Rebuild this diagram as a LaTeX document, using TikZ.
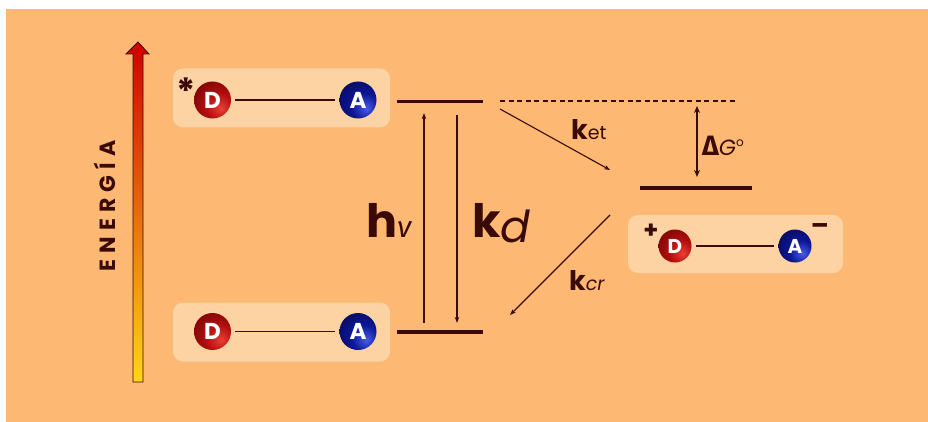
\documentclass[tikz,border=0pt]{standalone}
\usepackage{fontspec}
\setmainfont{Poppins}
\newfontfamily\grk{Fira Sans}
\usetikzlibrary{arrows.meta}

\definecolor{bg}{RGB}{253,184,116}
\definecolor{panel}{RGB}{253,211,164}
\definecolor{ink}{RGB}{58,10,6}
\definecolor{dhi}{RGB}{236,62,52}
\definecolor{dmid}{RGB}{180,14,14}
\definecolor{ddk}{RGB}{96,0,0}
\definecolor{ahi}{RGB}{72,92,232}
\definecolor{amid}{RGB}{12,22,150}
\definecolor{adk}{RGB}{6,6,66}

% spheres lit from the lower right
\pgfdeclareradialshading{donorball}{\pgfpoint{12bp}{-12bp}}{color(0bp)=(dhi); color(18bp)=(dmid); color(46bp)=(ddk); color(70bp)=(ddk)}
\pgfdeclareradialshading{acceptorball}{\pgfpoint{12bp}{-12bp}}{color(0bp)=(ahi); color(18bp)=(amid); color(46bp)=(adk); color(70bp)=(adk)}

\newcommand{\fs}[1]{\fontsize{#1}{#1}\selectfont}

\tikzset{
  panel/.style={fill=panel, rounded corners=10pt, minimum width=217pt, minimum height=59pt, inner sep=0pt},
  ball/.style={circle, inner sep=0pt, minimum size=37pt, text=white, font=\bfseries\fs{23}},
  donor/.style={ball, shade, shading=donorball},
  acceptor/.style={ball, shade, shading=acceptorball},
  bond/.style={draw=ink, line width=1.8pt, shorten <=4pt, shorten >=4pt},
  level/.style={fill=ink, minimum height=3.2pt, inner sep=0pt, outer sep=0pt},
  rate/.style={draw=ink, line width=1.1pt, -{Stealth[length=6pt,width=4.5pt]}},
  label/.style={text=ink, anchor=base west, inner sep=0pt},
}

\begin{document}
\begin{tikzpicture}[x=1pt, y=-1pt]
  \useasboundingbox (0,0) rectangle (928,422);
  \fill[bg] (6,9) rectangle (928,422);

  % energy axis
  \shade[top color={rgb,255:red,208;green,0;blue,0}, middle color={rgb,255:red,250;green,118;blue,12},
         bottom color={rgb,255:red,255;green,214;blue,22}, draw=ink, line width=0.8pt]
    (133,382) -- (133,54) -- (126,54) -- (138,42) -- (149,54) -- (143,54) -- (143,382) -- cycle;
  \node[rotate=90, text=ink, font=\bfseries\fs{22}\addfontfeature{LetterSpace=28}] (energy) at (105,206) {ENERGÍA};

  % excited state *D--A
  \node[panel] (boxT) at (281.5,98) {};
  \node[donor] (DT) at (212.5,100) {D};
  \node[acceptor] (AT) at (358,100) {A};
  \draw[bond] (DT) -- (AT);
  \node[text=ink, font=\bfseries\fs{36}] (star) at (186,91) {*};

  % ground state D--A
  \node[panel] (boxB) at (281.5,332) {};
  \node[donor] (DB) at (212.5,331.5) {D};
  \node[acceptor] (AB) at (358,331.5) {A};
  \draw[bond] (DB) -- (AB);

  % charge separated state D+--A-
  \node[panel, minimum width=215pt, minimum height=58pt] (boxR) at (735.5,244) {};
  \node[donor, minimum size=33pt, font=\bfseries\fs{20}] (DR) at (675,246) {D};
  \node[acceptor, minimum size=33pt, font=\bfseries\fs{20}] (AR) at (795,246) {A};
  \draw[bond] (DR) -- (AR);
  \node[text=ink, font=\bfseries\fs{24}] (plus) at (651,231) {+};
  \node[text=ink, font=\bfseries\fs{26}] (minus) at (820,229) {–};

  % levels
  \node[level, minimum width=86pt] (S1) at (440,101.5) {};
  \node[level, minimum width=86pt] (S0) at (440,332) {};
  \node[level, minimum width=112pt] (CT) at (696,188) {};
  \coordinate (dg) at (735,101.5);
  \draw[ink, line width=2pt, dash pattern=on 5pt off 3.5pt] ([xshift=17pt]S1.east) -- (dg);

  % transitions
  \draw[rate, shorten <=7.5pt, shorten >=10pt] ([xshift=-16pt]S0.north) -- ([xshift=-16pt]S1.south);
  \draw[rate, shorten <=12pt, shorten >=7.5pt] ([xshift=17pt]S1.south) -- ([xshift=17pt]S0.north);
  \draw[rate] ([xshift=17pt,yshift=-7.5pt]S1.east) -- ([xshift=-30pt,yshift=18pt]CT.west);
  \draw[rate] ([xshift=-30pt,yshift=-27pt]CT.west) -- ([xshift=27pt,yshift=17pt]S0.east);
  \draw[draw=ink, line width=2.6pt, {Stealth[length=7pt,width=6pt]}-{Stealth[length=7pt,width=6pt]}]
    ([xshift=-38pt,yshift=-4.5pt]dg) -- ([xshift=1pt,yshift=9.5pt]CT.north);

  % rate labels
  \node[label] (hnu) at (366,237) {{\bfseries\fs{46}h}{\grk\itshape\fs{30}ν}};
  \node[label] (kd) at (472,237) {{\bfseries\fs{46}k}\raisebox{-5pt}{\itshape\fs{44}d}};
  \node[label] (ket) at (571,140) {{\bfseries\fs{27}k}{\fs{19}et}};
  \node[label] (kcr) at (569,290) {{\bfseries\fs{27}k}{\itshape\fs{19}cr}};
  \node[label] (dG) at (702,156) {{\grk\bfseries\fs{28}Δ}{\itshape\fs{22}G}\raisebox{9pt}{\fs{12}o}};
\end{tikzpicture}
\end{document}
